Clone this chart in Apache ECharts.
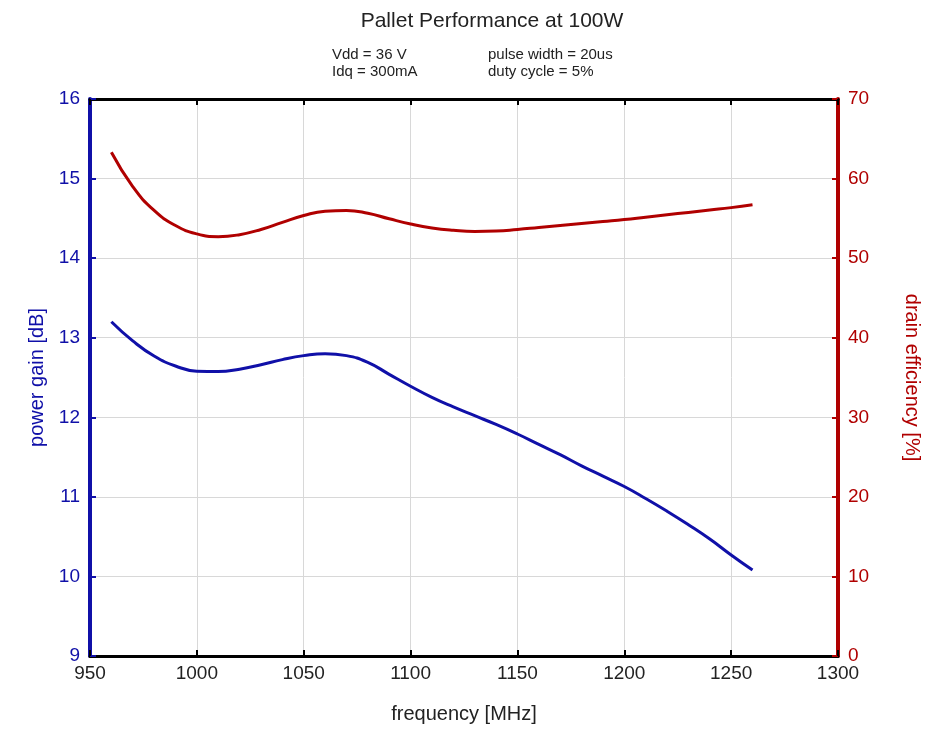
<!DOCTYPE html>
<html>
<head>
<meta charset="utf-8">
<script src="https://cdn.jsdelivr.net/npm/echarts@6/dist/echarts.min.js"></script>
<style>
  html, body { margin: 0; padding: 0; background: #fff; }
  #chart { width: 930px; height: 739px; }
</style>
</head>
<body>
<div id="chart"></div>
<script>
// frequency points [MHz]
const freq = [960, 970, 980, 990, 1000, 1010, 1020, 1030, 1040, 1050, 1060,
  1070, 1080, 1090, 1100, 1110, 1120, 1130, 1140, 1150, 1160, 1170, 1180,
  1190, 1200, 1210, 1220, 1230, 1240, 1250, 1260];

// power gain [dB]
const gain = [13.20, 12.96, 12.77, 12.645, 12.58, 12.575, 12.605, 12.66, 12.725,
  12.775, 12.80, 12.775, 12.69, 12.54, 12.39, 12.25, 12.13, 12.02, 11.91, 11.79,
  11.66, 11.53, 11.39, 11.26, 11.13, 10.98, 10.82, 10.65, 10.47, 10.27, 10.08];

// drain efficiency [%]
const efficiency = [63.3, 59.0, 56.0, 54.1, 53.05, 52.7, 52.95, 53.6, 54.5,
  55.35, 55.9, 56.0, 55.65, 54.95, 54.3, 53.8, 53.5, 53.35, 53.4, 53.6, 53.85,
  54.1, 54.35, 54.6, 54.85, 55.15, 55.45, 55.75, 56.05, 56.35, 56.7];

const notes = ["Vdd = 36 V", "Idq = 300mA", "pulse width = 20us", "duty cycle = 5%"];

const BLUE = "#1010a8";
const RED = "#b00000";
const FONT = "Liberation Sans";

const chart = echarts.init(document.getElementById("chart"));

const option = {
  backgroundColor: "#fff",
  animation: false,
  textStyle: { fontFamily: FONT },
  title: {
    text: "Pallet Performance at 100W",
    left: 487,
    textAlign: "center",
    top: 6,
    textStyle: { fontSize: 21, fontWeight: "normal", color: "#222", fontFamily: FONT },
  },
  graphic: [
    { type: "text", left: 332, top: 47, style: { text: notes[0], fontSize: 15, fill: "#222", fontFamily: FONT } },
    { type: "text", left: 332, top: 64, style: { text: notes[1], fontSize: 15, fill: "#222", fontFamily: FONT } },
    { type: "text", left: 488, top: 47, style: { text: notes[2], fontSize: 15, fill: "#222", fontFamily: FONT } },
    { type: "text", left: 488, top: 64, style: { text: notes[3], fontSize: 15, fill: "#222", fontFamily: FONT } },
  ],
  grid: { left: 90, right: 92, top: 99, bottom: 83, containLabel: false },
  xAxis: [
    {
      type: "value",
      min: 950,
      max: 1300,
      interval: 50,
      name: "frequency [MHz]",
      nameLocation: "middle",
      nameGap: 48,
      nameTextStyle: { fontSize: 20, color: "#222" },
      axisLine: { lineStyle: { color: "#000", width: 3 } },
      axisTick: { inside: true, length: 6, lineStyle: { color: "#000", width: 2 } },
      axisLabel: { fontSize: 19, color: "#222", margin: 8, formatter: (v) => String(v) },
      splitLine: { show: true, lineStyle: { color: "#d8d8d8", width: 1 } },
    },
    {
      type: "value",
      position: "top",
      min: 950,
      max: 1300,
      interval: 50,
      axisLine: { lineStyle: { color: "#000", width: 3 } },
      axisTick: { inside: true, length: 6, lineStyle: { color: "#000", width: 2 } },
      axisLabel: { show: false },
      splitLine: { show: false },
    },
  ],
  yAxis: [
    {
      type: "value",
      position: "left",
      min: 9,
      max: 16,
      interval: 1,
      name: "power gain [dB]",
      nameLocation: "middle",
      nameGap: 42,
      nameTextStyle: { fontSize: 20, color: BLUE },
      axisLine: { show: true, lineStyle: { color: BLUE, width: 4 } },
      axisTick: { show: true, inside: true, length: 6, lineStyle: { color: BLUE, width: 2 } },
      axisLabel: { fontSize: 19, color: BLUE, margin: 10 },
      splitLine: { show: true, lineStyle: { color: "#d8d8d8", width: 1 } },
    },
    {
      type: "value",
      position: "right",
      min: 0,
      max: 70,
      interval: 10,
      name: "drain efficiency [%]",
      nameLocation: "middle",
      nameRotate: -90,
      nameGap: 64,
      nameTextStyle: { fontSize: 20, color: RED },
      axisLine: { show: true, lineStyle: { color: RED, width: 4 } },
      axisTick: { show: true, inside: true, length: 6, lineStyle: { color: RED, width: 2 } },
      axisLabel: { fontSize: 19, color: RED, margin: 10 },
      splitLine: { show: false },
    },
  ],
  series: [
    {
      name: "power gain",
      type: "line",
      xAxisIndex: 0,
      yAxisIndex: 0,
      smooth: 0.5,
      symbol: "none",
      data: freq.map((f, i) => [f, gain[i]]),
      lineStyle: { color: BLUE, width: 3 },
    },
    {
      name: "drain efficiency",
      type: "line",
      xAxisIndex: 0,
      yAxisIndex: 1,
      smooth: 0.5,
      symbol: "none",
      data: freq.map((f, i) => [f, efficiency[i]]),
      lineStyle: { color: RED, width: 3 },
    },
  ],
};

chart.setOption(option);
</script>
</body>
</html>
